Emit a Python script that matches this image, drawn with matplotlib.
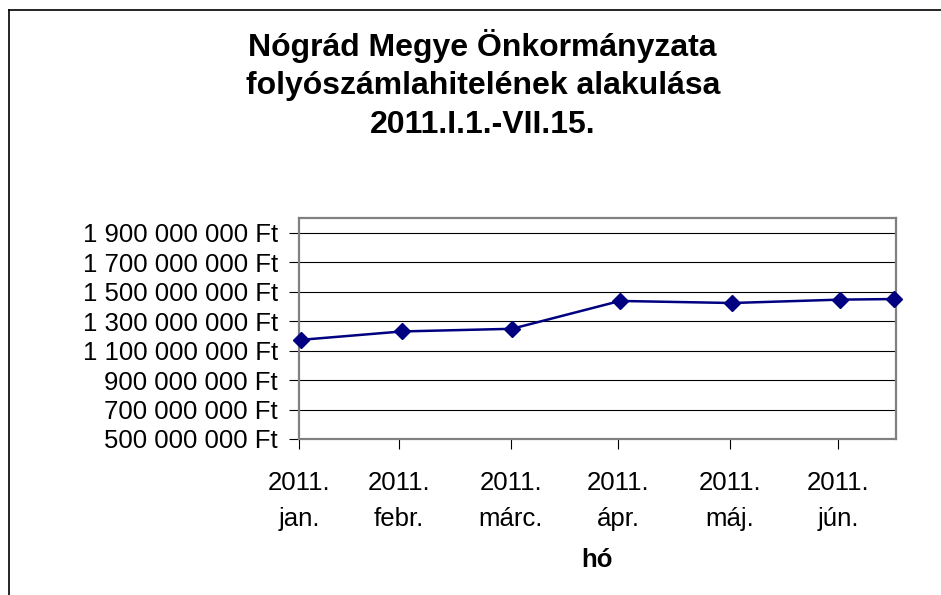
import matplotlib.pyplot as plt
from matplotlib.lines import Line2D

plt.rcParams['font.family'] = ['Liberation Sans', 'DejaVu Sans']

# positions of the points on the axis (tick spacing is ~1 per month)
x_pos = [0.02, 1.03, 2.13, 3.21, 4.33, 5.41, 5.95]
values = [1173e6, 1230e6, 1248e6, 1437e6, 1423e6, 1446e6, 1450e6]

tick_pos = [0, 1.0, 2.12, 3.19, 4.31, 5.39]
tick_labels = ['2011.\njan.', '2011.\nfebr.', '2011.\nmárc.', '2011.\nápr.', '2011.\nmáj.', '2011.\njún.']
y_ticks = [500e6, 700e6, 900e6, 1100e6, 1300e6, 1500e6, 1700e6, 1900e6]

title = 'Nógrád Megye Önkormányzata\nfolyószámlahitelének alakulása\n2011.I.1.-VII.15.'

fig = plt.figure(figsize=(9.41, 5.95), dpi=100)
ax = fig.add_axes([0.3177, 0.2622, 0.9522 - 0.3177, 0.6336 - 0.2622])

ax.plot(x_pos, values, color='#000080', lw=1.8, marker='D', markersize=8,
        clip_on=False, zorder=3)

ax.set_xlim(0, 5.97)
ax.set_ylim(500e6, 2000e6)
ax.set_yticks(y_ticks)
ax.set_yticklabels([f'{v:,.0f}'.replace(',', ' ') + ' Ft' for v in y_ticks])
ax.set_xticks(tick_pos)
ax.set_xticklabels(tick_labels, linespacing=1.66)
ax.tick_params(axis='both', labelsize=18.5, length=7, width=0.8, color='black',
               direction='out')
ax.tick_params(axis='x', pad=16)
ax.tick_params(axis='y', pad=8)

ax.yaxis.grid(True, color='black', lw=0.8)
ax.set_axisbelow(True)
for s in ax.spines.values():
    s.set_color('#808080')
    s.set_linewidth(1.6)

ax.set_xlabel('hó', fontsize=18.5, fontweight='bold', labelpad=12)
fig.text(0.513, 0.952, title, ha='center', va='top', fontsize=23,
         fontweight='bold', linespacing=1.37)

# outer chart border (only left and top edges are visible)
fig.add_artist(Line2D([9 / 941, 9 / 941], [0, 1 - 10 / 595], color='black', lw=1.2))
fig.add_artist(Line2D([9 / 941, 1], [1 - 10 / 595, 1 - 10 / 595], color='black', lw=1.2))

fig.savefig('out.png', dpi=100)
